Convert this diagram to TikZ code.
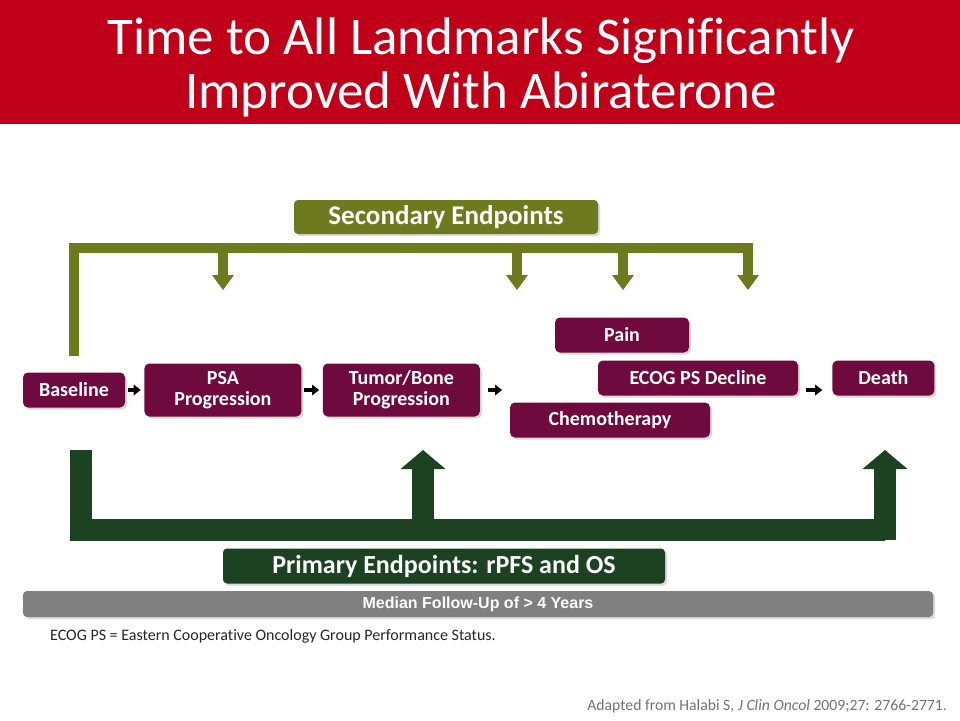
\documentclass[tikz,border=0pt]{standalone}
\usepackage{fontspec}
\setmainfont{Carlito}[Ligatures=NoCommon]
\newfontfamily\arial{Liberation Sans}
\usepackage{tikz}
\usetikzlibrary{
    arrows.meta,
    shadows,
    positioning
}
\definecolor{hdr}{RGB}{192,0,24}
\definecolor{plum}{RGB}{111,10,62}
\definecolor{olv}{RGB}{110,122,30}
\definecolor{dkgrn}{RGB}{28,66,34}
\definecolor{fugray}{RGB}{128,128,128}
\newcommand{\fs}[2]{\fontsize{#1}{#2}\selectfont}

\begin{document}
\begin{tikzpicture}[x=1pt, y=-1pt,
    box/.style={fill=plum, text=white, rounded corners=5pt, inner sep=0pt, align=center,
        font=\fs{20}{21}\bfseries, drop shadow={shadow xshift=2pt, shadow yshift=-2pt, opacity=.3}},
    tag/.style={text=white, rounded corners=4pt, inner sep=0pt,
        drop shadow={shadow xshift=2pt, shadow yshift=-2pt, opacity=.3}},
    blk/.style={line width=4.5pt, -{Triangle[length=7pt, width=11pt, line width=0pt]}, shorten <=2.5pt, shorten >=3.5pt},
    sec/.style={draw=olv, line width=10pt},
    prm/.style={draw=dkgrn, line width=22pt}
]
    \path[use as bounding box, fill=white] (0,0) rectangle (960,720);
    \fill[hdr] (0,0) rectangle (960,124);
    \node[text=white, align=center, font=\fs{53}{54}] (ttl) at (481,67)
        {Time to All Landmarks Significantly\\Improved With Abiraterone};

    \node[tag, fill=olv, minimum width=304pt, minimum height=34pt, font=\fs{27}{28}\bfseries] (sec) at (446,217) {Secondary Endpoints};

    \coordinate (sL) at (74,356);
    \coordinate (sR) at (748,248);
    \draw[sec] (sL) |- (sR);
    \foreach \x [count=\i] in {223,517,623,748} {
        \coordinate (st\i) at (\x,243);
        \coordinate (s\i) at (\x,290);
        \draw[sec, -{Triangle[length=15pt, width=22pt, line width=0pt]}] (st\i) -- (s\i);
    }

    \node[box, minimum width=102pt, minimum height=35pt] (base) at (74,390) {Baseline};
    \node[box, minimum width=157pt, minimum height=53pt, right=19pt of base] (psa) {PSA\\Progression};
    \node[box, minimum width=157pt, minimum height=53pt, right=21pt of psa] (tum) {Tumor/Bone\\Progression};
    \node[box, minimum width=134pt, minimum height=35pt] (pain) at (622,335) {Pain};
    \node[box, minimum width=200pt, minimum height=35pt] (ecog) at (698,378) {ECOG PS Decline};
    \node[box, minimum width=200pt, minimum height=35pt] (chemo) at (610,420) {Chemotherapy};
    \node[box, minimum width=102pt, minimum height=35pt, right=34pt of ecog] (death) {Death};

    \coordinate (grp) at (502,390);
    \draw[blk] (base) -- (psa);
    \draw[blk] (psa) -- (tum);
    \draw[blk, shorten <=8pt, shorten >=0pt] (tum) -- (grp);
    \draw[blk, shorten <=8pt, shorten >=10pt] (ecog.east |- base) -- (death.west |- base);

    \coordinate (pL) at (81,450);
    \coordinate (pR) at (885,530);
    \draw[prm] (pL) |- (pR);
    \foreach \x [count=\i] in {423,885} {
        \coordinate (pb\i) at (\x,540);
        \coordinate (p\i) at (\x,450);
        \draw[prm, -{Triangle[length=19pt, width=45pt, line width=0pt]}] (pb\i) -- (p\i);
    }

    \node[tag, fill=dkgrn, minimum width=442pt, minimum height=35pt, font=\fs{26}{27}\bfseries] (prim) at (444,566) {Primary Endpoints: rPFS and OS};
    \node[tag, fill=fugray, minimum width=910pt, minimum height=26pt, font=\arial\bfseries\fs{16}{18}] (fu) at (478,604) {Median Follow-Up of > 4 Years};

    \node[anchor=base west, inner sep=0pt, font=\fs{16}{18}, text=black!85] (note) at (50,640)
        {ECOG PS = Eastern Cooperative Oncology Group Performance Status.};
    \node[anchor=base east, inner sep=0pt, font=\fs{15.7}{18}, text=black!55] (ref) at (947,710)
        {Adapted from Halabi S, \textit{J Clin Oncol} 2009;27: 2766-2771.};
\end{tikzpicture}
\end{document}
